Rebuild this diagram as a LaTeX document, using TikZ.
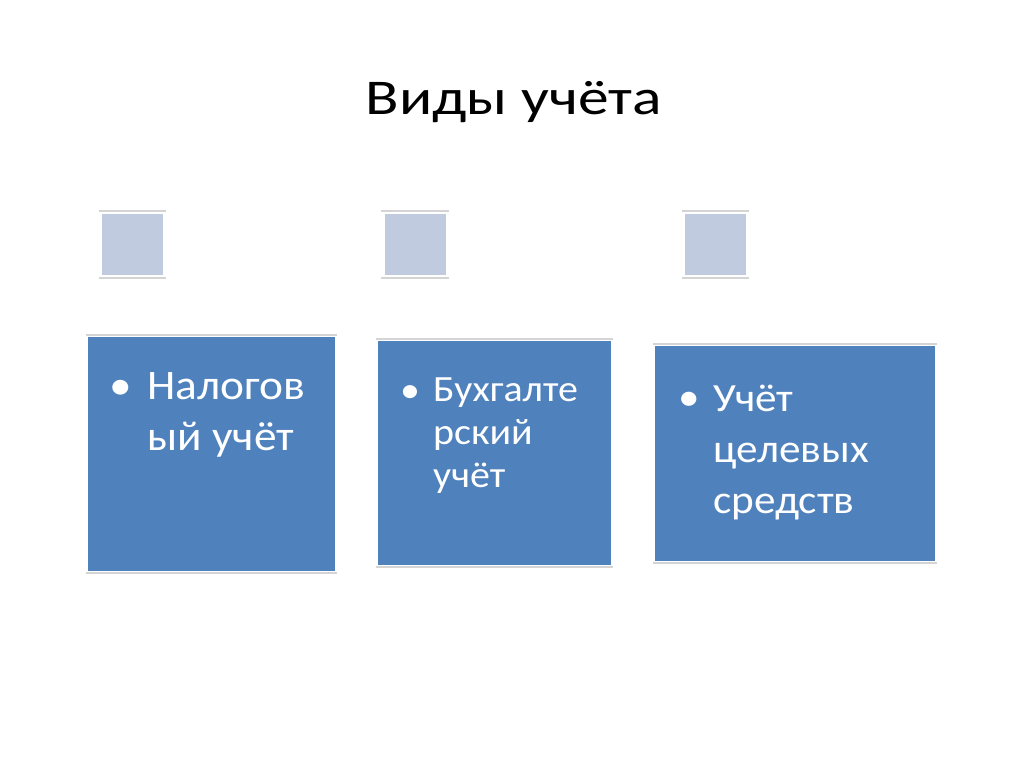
\documentclass[tikz,border=0pt]{standalone}
\usepackage{fontspec}
\setmainfont{Carlito}
\newfontfamily\headfont[FakeStretch=1.23]{Carlito}
\newfontfamily\boxfont[FakeStretch=1.08]{Carlito}
\usetikzlibrary{positioning}
\definecolor{accblue}{RGB}{79,129,189}
\definecolor{accpale}{RGB}{192,203,223}
\definecolor{accrule}{RGB}{212,212,212}

\begin{document}
\begin{tikzpicture}[x=1pt, y=-1pt,
    marker/.style={rectangle, fill=accpale, inner sep=0pt, minimum size=61pt},
    kind/.style={rectangle, fill=accblue, inner sep=0pt, anchor=north west},
    rule/.style={draw=accrule, line width=2pt},
    item/.style={text=white, anchor=north west, inner sep=0pt, align=left},
    dot/.style={text=white, anchor=base, inner sep=0pt}]
  \useasboundingbox[fill=white] (0,0) rectangle (1024,767);
  \node[anchor=base, inner sep=0pt] (title) at (514,115) {\headfont\fontsize{50}{60}\selectfont Виды учёта};

  % small markers
  \node[marker] (m1) at (132.5,244.5) {};
  \node[marker] (m2) at (415,244.5) {};
  \node[marker] (m3) at (715.5,244.5) {};
  \foreach \m in {m1,m2,m3} {
    \draw[rule] ([xshift=-3pt,yshift=3pt]\m.north west) -- ([xshift=3pt,yshift=3pt]\m.north east);
    \draw[rule] ([xshift=-3pt,yshift=-3pt]\m.south west) -- ([xshift=3pt,yshift=-3pt]\m.south east);
  }

  % blue boxes
  \node[kind, minimum width=247pt, minimum height=234pt] (tax) at (88,337) {};
  \node[kind, minimum width=233pt, minimum height=224pt] (book) at (378,341) {};
  \node[kind, minimum width=280pt, minimum height=215pt] (fund) at (655,346) {};
  \foreach \b in {tax,book,fund} {
    \draw[rule] ([xshift=-2pt,yshift=2pt]\b.north west) -- ([xshift=2pt,yshift=2pt]\b.north east);
    \draw[rule] ([xshift=-2pt,yshift=-2pt]\b.south west) -- ([xshift=2pt,yshift=-2pt]\b.south east);
  }

  % texts
  \node[dot, font=\boxfont\fontsize{42}{51}\selectfont] (d1) at (121,399) {\textbullet};
  \node[item, font=\boxfont\fontsize{42}{51}\selectfont] (taxtext) at (147,372) {Налогов\\ый учёт};
  \node[dot, font=\boxfont\fontsize{37}{43}\selectfont] (d2) at (410,402) {\textbullet};
  \node[item, font=\boxfont\fontsize{37}{43}\selectfont] (booktext) at (433,378) {Бухгалте\\рский\\учёт};
  \node[dot, font=\boxfont\fontsize{40}{51}\selectfont] (d3) at (689,410) {\textbullet};
  \node[item, font=\boxfont\fontsize{40}{51}\selectfont] (fundtext) at (713,385) {Учёт\\целевых\\средств};
\end{tikzpicture}
\end{document}
